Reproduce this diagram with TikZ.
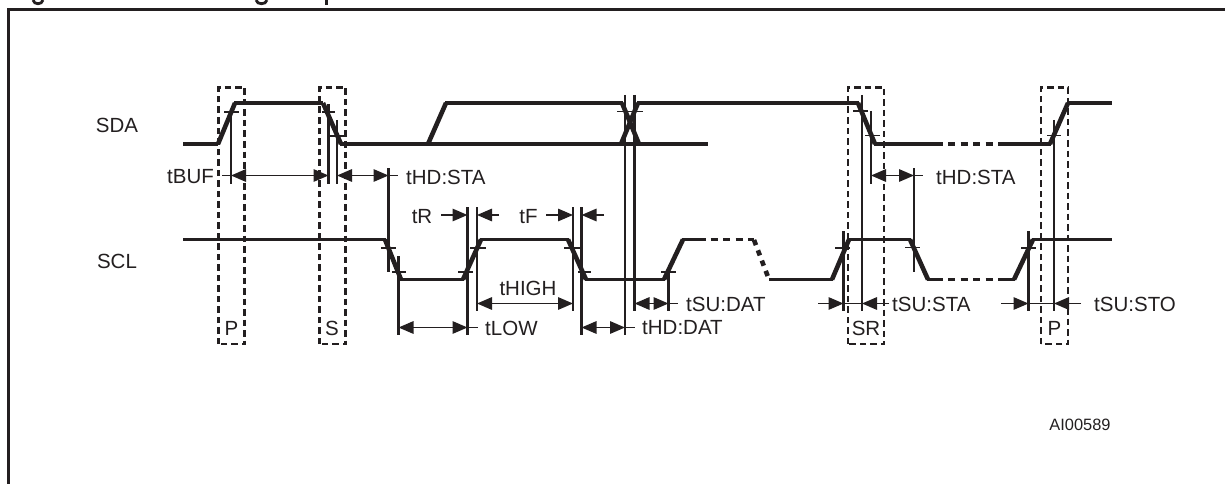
\documentclass[tikz,border=0pt]{standalone}
\usepackage{fontspec}
\setmainfont{Liberation Sans}
\usetikzlibrary{arrows.meta}
\definecolor{ink}{HTML}{231F20}
\tikzset{
  x=1pt,y=-1pt,
  sig/.style={draw=ink,line width=3.7pt,line join=miter},
  edge/.style={draw=ink,line width=4.6pt},
  sigdash/.style={draw=ink,line width=3.7pt,dash pattern=on 7pt off 5.5pt},
  edgedash/.style={draw=ink,line width=4.6pt,dash pattern=on 5.5pt off 5.5pt},
  ext/.style={draw=ink,line width=2.4pt},
  tick/.style={draw=ink,line width=1.4pt},
  dimline/.style={draw=ink,line width=1.5pt},
  dimboth/.style={dimline,{Triangle[length=15pt,width=12.5pt]}-{Triangle[length=15pt,width=12.5pt]}},
  dimhead/.style={dimline,-{Triangle[length=15pt,width=12.5pt]}},
  marker/.style={draw=ink,line width=2.5pt,dash pattern=on 6.5pt off 4pt},
  lab/.style={inner sep=0pt,text=ink,font=\fontsize{20.5}{22}\selectfont},
  code/.style={inner sep=0pt,text=ink,font=\fontsize{16.4}{18}\selectfont},
  frameline/.style={draw=ink,line width=3pt}
}
\begin{document}
\begin{tikzpicture}
\useasboundingbox (0,0) rectangle (1225,484);
% cropped caption fragments
\begin{scope}
\clip (0,0) rectangle (1225,6);
\draw[ink,line width=2.8pt] (33,0) .. controls (34,5) and (42,5) .. (43,0);
\draw[ink,line width=2.8pt] (256,0) .. controls (257,5) and (266,5) .. (267,0);
\draw[ink,line width=2.8pt] (326.5,0) -- (326.5,5);
\end{scope}
% frame
\draw[frameline] (8.5,484) -- (8.5,9.5) -- (1225,9.5);
% marker boxes
\draw[marker] (218.5,344) -- (218.5,87.5) -- (244.5,87.5) -- (244.5,344) -- cycle;
\draw[marker] (319.5,344) -- (319.5,87.5) -- (345.5,87.5) -- (345.5,344) -- cycle;
\draw[marker] (848,344) -- (848,87.5) -- (884,87.5) -- (884,344) -- cycle;
\draw[marker] (1041,344) -- (1041,87.5) -- (1068,87.5) -- (1068,344) -- cycle;
% SDA
\draw[sig] (183,144) -- (218,144);
\draw[edge] (218,144) -- (235,103);
\draw[sig] (234,103) -- (323,103);
\draw[edge] (323,103) -- (341,144);
\draw[sig] (340,144) -- (708,144);
\draw[edge] (428,144) -- (446,103);
\draw[sig] (445,103) -- (623,103);
\draw[edge] (622,103) -- (639,144);
\draw[edge] (621,144) -- (638,103);
\draw[sig] (637,103) -- (859,103);
\draw[edge] (858,103) -- (875,144);
\draw[sig] (874,144) -- (942.5,144);
\draw[sigdash] (948,144) -- (993,144);
\draw[sig] (998,144) -- (1051,144);
\draw[edge] (1050,144) -- (1068,103);
\draw[sig] (1067,103) -- (1112,103);
% SCL
\draw[sig] (183,239.5) -- (386,239.5);
\draw[edge] (385,239.5) -- (401,279.5);
\draw[sig] (400,279.5) -- (464,279.5);
\draw[edge] (463,279.5) -- (481,239.5);
\draw[sig] (480,239.5) -- (569,239.5);
\draw[edge] (568,239.5) -- (586,279.5);
\draw[sig] (585,279.5) -- (665,279.5);
\draw[edge] (664,279.5) -- (683,239.5);
\draw[sig] (682,239.5) -- (705.5,239.5);
\draw[sigdash] (710.5,239.5) -- (754,239.5);
\draw[edgedash] (754,240) -- (769,279.5);
\draw[sig] (769,279.5) -- (833,279.5);
\draw[edge] (832,279.5) -- (849,239.5);
\draw[sig] (848,239.5) -- (911,239.5);
\draw[edge] (910,239.5) -- (928,279.5);
\draw[sig] (927,279.5) -- (942.5,279.5);
\draw[sigdash] (948,279.5) -- (993,279.5);
\draw[sig] (998,279.5) -- (1015,279.5);
\draw[edge] (1014,279.5) -- (1033,239.5);
\draw[sig] (1032,239.5) -- (1112,239.5);
% extension lines
\foreach \xa/\ya/\yb in {231/112/184, 328.5/104/184, 337/120/184, 388.5/168/272, 398.5/256/335,
  467.5/207/335, 477/207/311, 573/207/311, 581.5/207/335, 625/95/335, 634.5/95/311, 668.5/272/311,
  862/95/311, 871/111/184, 914/168/272, 843.5/231/311, 1028.5/231/311, 1054/120/311}
  \draw[ext] (\xa,\ya) -- (\xa,\yb);
% threshold ticks
\foreach \xa/\xb/\ya in {224/239/112, 322/335/112, 330/344/136, 381/396/248, 392/406/272, 458/473/272,
  470/486/248, 564/580/248, 578/591/272, 617/643/111.5, 661/676/272, 853/868/111, 865/880/135.5,
  905/920/247.5, 835/850/248, 1021/1036/248, 1047/1061/135.5}
  \draw[tick] (\xa,\ya) -- (\xb,\ya);
% dimension arrows between two extension lines
\draw[dimboth] (231,175.5) -- (328.5,175.5);
\draw[dimline] (222,175.5) -- (231,175.5);
\draw[dimboth] (337,175.5) -- (388.5,175.5);
\draw[dimline] (388.5,175.5) -- (398,175.5);
\draw[dimboth] (398.5,327.5) -- (467.5,327.5);
\draw[dimline] (467.5,327.5) -- (478,327.5);
\draw[dimboth] (477,303.5) -- (573,303.5);
\draw[dimboth] (581.5,327.5) -- (625,327.5);
\draw[dimline] (625,327.5) -- (635,327.5);
\draw[dimboth] (634.5,303.5) -- (668.5,303.5);
\draw[dimline] (668.5,303.5) -- (678,303.5);
\draw[dimboth] (871,175.5) -- (914,175.5);
\draw[dimline] (914,175.5) -- (923,175.5);
% dimension arrows pointing inward from outside
\draw[dimhead] (441,215) -- (467.5,215);
\draw[dimhead] (499,215) -- (477,215);
\draw[dimhead] (546,215) -- (573,215);
\draw[dimhead] (604,215) -- (581.5,215);
\draw[dimhead] (818,303.5) -- (843.5,303.5);
\draw[dimhead] (889,303.5) -- (862,303.5);
\draw[dimline] (843.5,303.5) -- (862,303.5);
\draw[dimhead] (1001,303.5) -- (1028.5,303.5);
\draw[dimhead] (1081,303.5) -- (1054,303.5);
\draw[dimline] (1028.5,303.5) -- (1054,303.5);
% labels
\node[lab] (sda) at (117,125) {SDA};
\node[lab] (scl) at (117,261) {SCL};
\node[lab,anchor=west] (tbuf) at (167,177) {tBUF};
\node[lab,anchor=west] (thdstaa) at (406,177) {tHD:STA};
\node[lab,anchor=west] (thdstab) at (936,177) {tHD:STA};
\node[lab] (tr) at (422,217) {tR};
\node[lab] (tf) at (528.5,217) {tF};
\node[lab] (thigh) at (528,288) {tHIGH};
\node[lab,anchor=west] (tlow) at (485,328) {tLOW};
\node[lab,anchor=west] (thddat) at (642,328) {tHD:DAT};
\node[lab,anchor=west] (tsudat) at (686,304) {tSU:DAT};
\node[lab,anchor=west] (tsusta) at (892,304) {tSU:STA};
\node[lab,anchor=west] (tsusto) at (1094,304) {tSU:STO};
\node[lab] (pa) at (231.5,328) {P};
\node[lab] (s) at (332,328) {S};
\node[lab] (sr) at (866,328) {SR};
\node[lab] (pb) at (1054.5,328) {P};
\node[code] (ai) at (1080,425) {AI00589};
\end{tikzpicture}
\end{document}
